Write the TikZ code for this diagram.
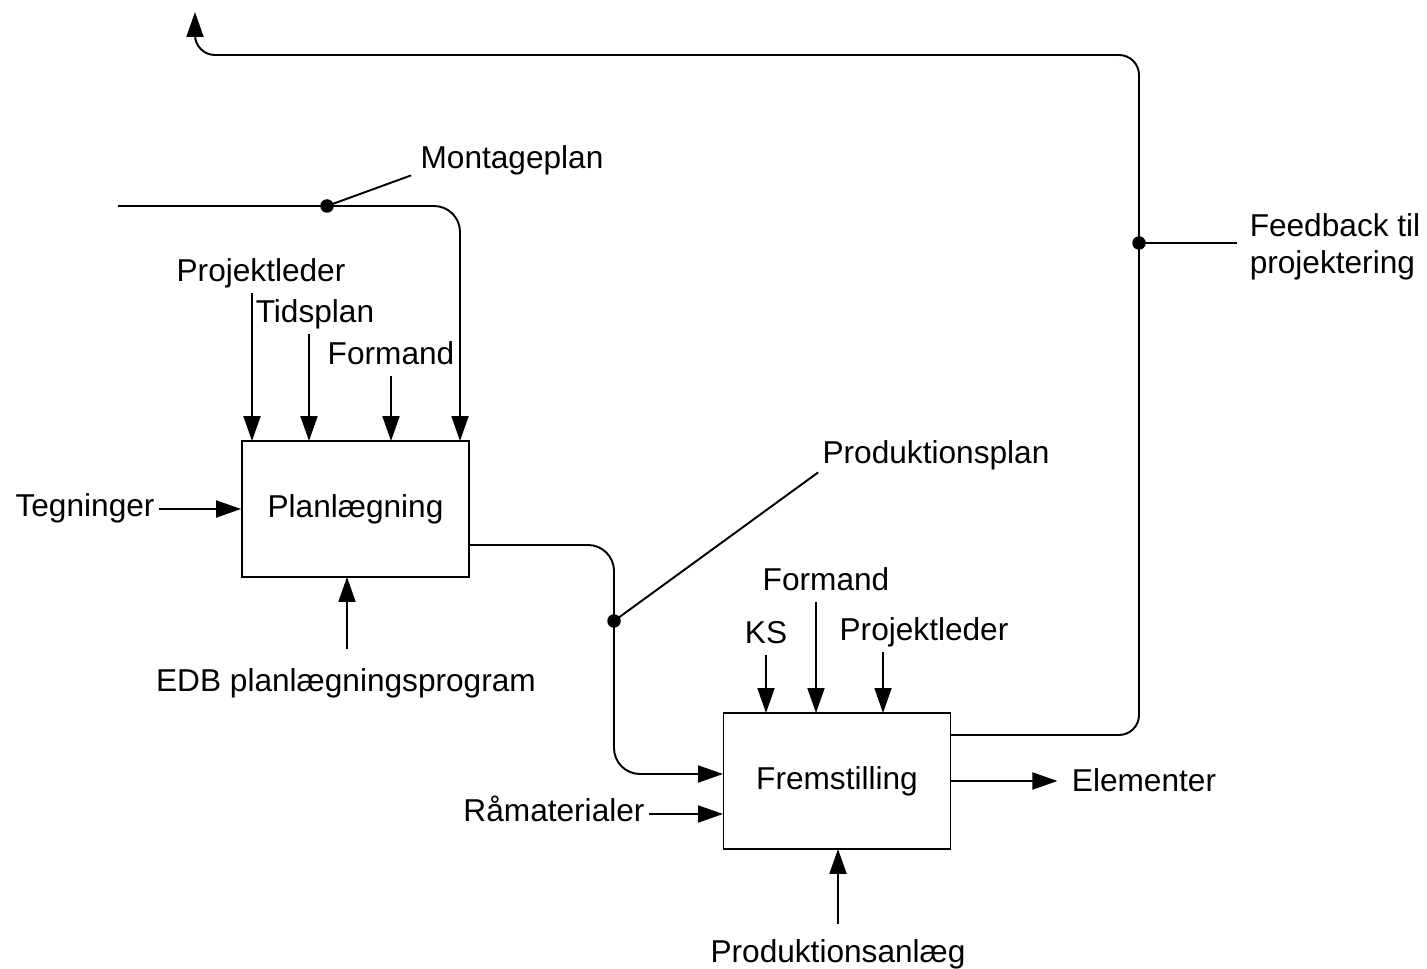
\documentclass[tikz,border=0pt]{standalone}
\usepackage{fontspec}
\setmainfont{Liberation Sans}
\usetikzlibrary{arrows.meta,positioning}
\begin{document}
\begin{tikzpicture}[x=0.02cm,y=-0.02cm,line width=1.1pt,
	font=\fontsize{18}{21}\selectfont,
	arr/.style={-{Triangle[length=0.5cm,width=0.34cm]}},
	proc/.style={draw,minimum width=4.54cm,minimum height=2.72cm,inner sep=0pt},
	lbl/.style={inner sep=2pt,text height=13pt,text depth=4pt,yshift=-0.08cm},
	dot/.style={circle,fill,inner sep=0pt,minimum size=0.27cm}]
	\useasboundingbox (0,0) rectangle (1427,969);
	\node[proc] (plan) at (355.5,509) {Planlægning};
	\node[proc] (frem) at (837,781) {Fremstilling};
	\node[lbl] (mont) at (512,157) {Montageplan};
	\node[lbl] (projl1) at (261,270) {Projektleder};
	\node[lbl] (tids) at (315,311) {Tidsplan};
	\node[lbl] (form1) at (391,353) {Formand};
	\node[lbl] (tegn) at (85,505) {Tegninger};
	\node[lbl] (edb) at (346,680) {EDB planlægningsprogram};
	\node[lbl] (pplan) at (936,452) {Produktionsplan};
	\node[lbl] (form2) at (826,579) {Formand};
	\node[lbl] (ks) at (766,632) {KS};
	\node[lbl] (projl2) at (924,629) {Projektleder};
	\node[lbl] (raa) at (554,810) {Råmaterialer};
	\node[lbl] (anlaeg) at (838,951) {Produktionsanlæg};
	\node[lbl] (elem) at (1144,780) {Elementer};
	\node[inner sep=2pt,align=left,yshift=-0.08cm] (feed) at (1335,243) {Feedback til\\projektering};
	\node[dot] (d1) at (327,206) {};
	\node[dot] (d2) at (614,621) {};
	\node[dot] (d3) at (1139,243) {};
	\coordinate (mstart) at (118,206);
	\coordinate (pin1) at (252,441);
	\coordinate (pin2) at (309,441);
	\coordinate (pin3) at (391,441);
	\coordinate (pin4) at (460,441);
	\coordinate (pbot) at (347,577);
	\coordinate (pout) at (469,545);
	\coordinate (fin1) at (723,774);
	\coordinate (fin2) at (723,814);
	\coordinate (ftop1) at (766,713);
	\coordinate (ftop2) at (816,713);
	\coordinate (ftop3) at (883,713);
	\coordinate (fbot) at (838,849);
	\coordinate (fout) at (951,735);
	\coordinate (fbtop) at (195,12);
	\draw[arr,rounded corners=0.52cm] (mstart) -| (pin4);
	\draw (d1.center) -- ([xshift=-0.1cm,yshift=0.1cm]mont.south west);
	\draw[arr] (projl1.south -| pin1) -- (pin1);
	\draw[arr] (tids.south -| pin2) -- (pin2);
	\draw[arr] (form1.south -| pin3) -- (pin3);
	\draw[arr] (tegn.east |- plan.west) -- (plan.west);
	\draw[arr] ([yshift=0.32cm]edb.north -| pbot) -- (pbot);
	\draw[arr,rounded corners=0.52cm] (pout) -| (d2.center) |- (fin1);
	\draw (d2.center) -- ([yshift=0.06cm]pplan.south west);
	\draw[arr] (raa.east |- fin2) -- (fin2);
	\draw[arr] (ks.south -| ftop1) -- (ftop1);
	\draw[arr] (form2.south -| ftop2) -- (ftop2);
	\draw[arr] (projl2.south -| ftop3) -- (ftop3);
	\draw[arr] ([yshift=0.23cm]anlaeg.north -| fbot) -- (fbot);
	\draw[arr,shorten >=0.2cm] (frem.east) -- (frem.east -| elem.west);
	\draw[arr,rounded corners=0.4cm] (fout) -| (d3.center) -- (d3.center |- 0,55) -| (fbtop);
	\draw[shorten >=0.16cm] (d3.center) -- (feed.west |- d3);
\end{tikzpicture}
\end{document}
